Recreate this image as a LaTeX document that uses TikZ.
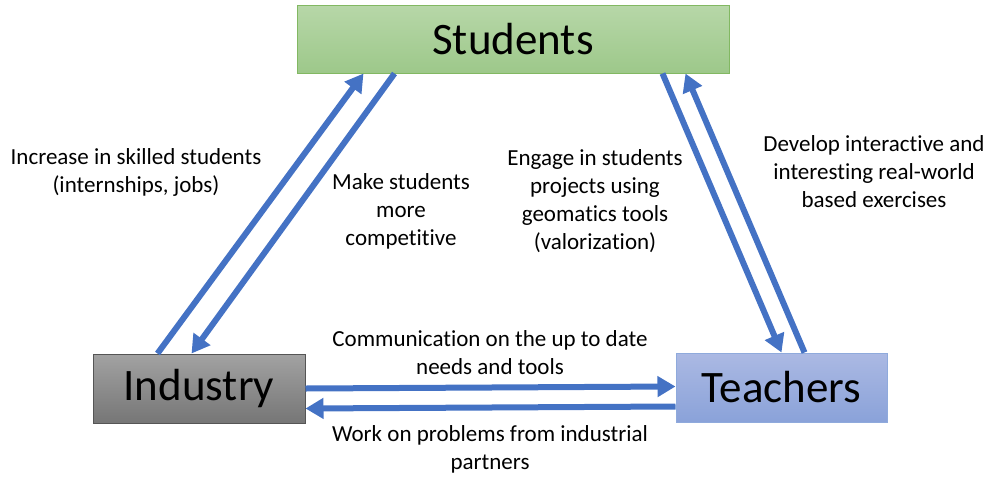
\documentclass[tikz,border=0pt]{standalone}
\usepackage{fontspec}
\setmainfont[Ligatures=NoCommon]{Carlito}
\usetikzlibrary{arrows.meta, positioning}
\definecolor{flowblue}{RGB}{68,114,196}
\tikzset{
  box/.style={draw, line width=1pt, inner sep=0pt, font=\fontsize{45}{54}\selectfont},
  flow/.style={flowblue, line width=6pt, -{Triangle[width=20pt,length=18pt]}},
  lbl/.style={align=center, inner sep=0pt, font=\fontsize{23}{28}\selectfont}
}
\begin{document}
\begin{tikzpicture}[x=1pt, y=-1pt]
			\useasboundingbox (0,0) rectangle (990,477);
			\node[box, draw={rgb,255:red,130;green,184;blue,98}, top color={rgb,255:red,183;green,215;blue,168}, bottom color={rgb,255:red,157;green,200;blue,138}, minimum width=432pt, minimum height=68pt] (students) at (513,39) {Students};
			\node[box, draw={rgb,255:red,85;green,85;blue,85}, top color={rgb,255:red,162;green,162;blue,162}, bottom color={rgb,255:red,118;green,118;blue,118}, minimum width=212pt, minimum height=69pt] (industry) at (199,388.5) {Industry};
			\node[box, draw={rgb,255:red,143;green,170;blue,220}, top color={rgb,255:red,171;green,185;blue,227}, bottom color={rgb,255:red,138;green,162;blue,217}, minimum width=211pt, minimum height=69pt] (teachers) at (781.5,387.5) {Teachers};

			\node[lbl] (skilled) at (136,172) {Increase in skilled students\\(internships, jobs)};
			\node[lbl] (competitive) at (401,211) {Make students\\more\\competitive};
			\node[lbl] (engage) at (595,201) {Engage in students\\projects using\\geomatics tools\\(valorization)};
			\node[lbl] (develop) at (874,172) {Develop interactive and\\interesting real-world\\based exercises};
			\node[lbl] (communication) at (490,353) {Communication on the up to date\\needs and tools};
			\node[lbl] (problems) at (490,449) {Work on problems from industrial\\partners};

			\draw[flow] ([xshift=65pt]industry.north west) -- ([xshift=67pt]students.south west);
			\draw[flow] ([xshift=98pt]students.south west) -- ([xshift=99pt]industry.north west);
			\draw[flow] ([xshift=-67pt]students.south east) -- ([xshift=106pt]teachers.north west);
			\draw[flow] ([xshift=129pt]teachers.north west) -- ([xshift=-44pt]students.south east);
			\draw[flow] ([yshift=0pt]industry.east) -- ([yshift=1pt]teachers.west);
			\draw[flow] ([yshift=-19pt]teachers.west) -- ([yshift=-20pt]industry.east);
		\end{tikzpicture}
\end{document}
